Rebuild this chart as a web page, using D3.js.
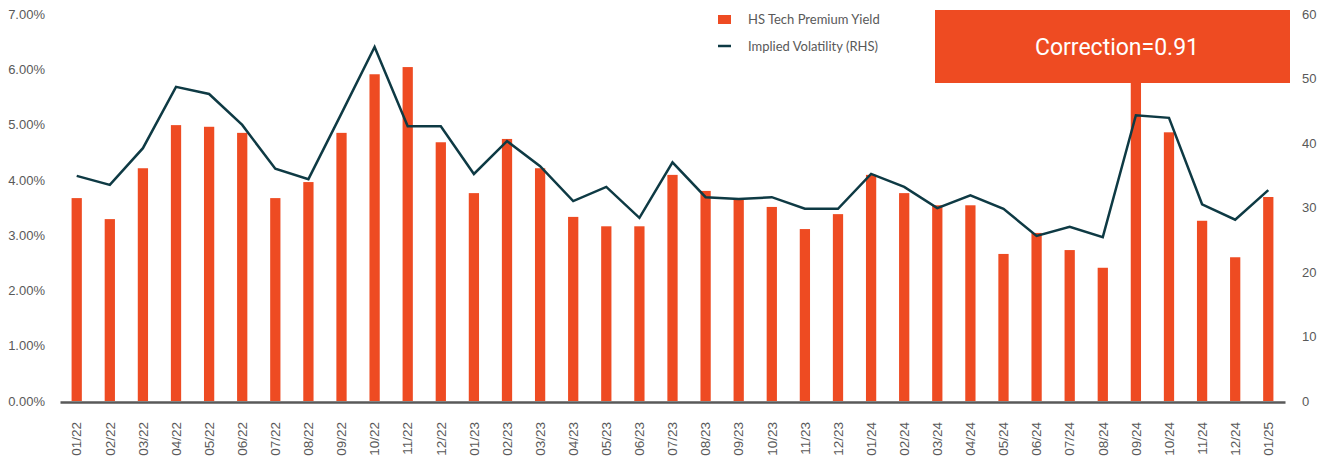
<!DOCTYPE html>
<html>
<head>
<meta charset="utf-8">
<script src="https://cdn.jsdelivr.net/npm/d3@7"></script>
<style>
  body { margin: 0; background: #fff; }
  svg { display: block; font-family: Lato, "Open Sans", sans-serif; }
</style>
</head>
<body>
<svg id="chart" width="1333" height="462"></svg>
<script>
// months, 01/22 .. 01/25
const months = ["01/22","02/22","03/22","04/22","05/22","06/22","07/22","08/22","09/22","10/22","11/22","12/22",
  "01/23","02/23","03/23","04/23","05/23","06/23","07/23","08/23","09/23","10/23","11/23","12/23",
  "01/24","02/24","03/24","04/24","05/24","06/24","07/24","08/24","09/24","10/24","11/24","12/24","01/25"];

// HS Tech premium yield (%)
const premiumYield = [3.67,3.29,4.21,4.99,4.96,4.85,3.67,3.96,4.85,5.91,6.04,4.68,
  3.76,4.74,4.21,3.33,3.16,3.16,4.09,3.80,3.65,3.51,3.11,3.38,
  4.09,3.76,3.54,3.54,2.66,3.04,2.73,2.41,6.6,4.86,3.26,2.60,3.69];

// implied volatility (RHS)
const impliedVol = [34.9,33.5,39.2,48.7,47.6,42.8,36.0,34.4,44.6,54.9,42.6,42.6,
  35.2,40.3,36.4,31.0,33.2,28.4,37.0,31.6,31.3,31.6,29.8,29.8,
  35.2,33.2,29.9,31.9,29.8,25.6,27.0,25.4,44.3,43.9,30.5,28.1,32.7];

const leftTicks = [0,1,2,3,4,5,6,7];
const rightTicks = [0,10,20,30,40,50,60];
const legendItems = ["HS Tech Premium Yield", "Implied Volatility (RHS)"];
const noteText = "Correction=0.91";

const orange = "#ee4b22";
const navy = "#0e3a44";
const grey = "#595959";

const svg = d3.select("#chart");

const x = d3.scaleBand().domain(months).range([60, 1285]).paddingInner(0.69).paddingOuter(0.35);
const yL = d3.scaleLinear().domain([0, 7]).range([401, 14]);
const yR = d3.scaleLinear().domain([0, 60]).range([401, 14]);

// bars
svg.append("g")
  .selectAll("rect")
  .data(months)
  .join("rect")
  .attr("x", d => x(d))
  .attr("width", x.bandwidth())
  .attr("y", (d, i) => yL(premiumYield[i]))
  .attr("height", (d, i) => yL(0) - yL(premiumYield[i]))
  .attr("fill", orange);

// left axis
const leftAxis = svg.append("g")
  .attr("transform", "translate(45,0)")
  .call(d3.axisLeft(yL).tickValues(leftTicks).tickFormat(d => d.toFixed(2) + "%").tickSize(0).tickPadding(0));
leftAxis.select(".domain").remove();
leftAxis.selectAll("text").attr("fill", grey).style("font-size", "13px");

// right axis
const rightAxis = svg.append("g")
  .attr("transform", "translate(1302,0)")
  .call(d3.axisRight(yR).tickValues(rightTicks).tickSize(0).tickPadding(0));
rightAxis.select(".domain").remove();
rightAxis.selectAll("text").attr("fill", grey).style("font-size", "13px");

// x axis
const xAxis = svg.append("g")
  .attr("transform", "translate(0,402)")
  .call(d3.axisBottom(x).tickSize(0).tickPadding(0));
xAxis.select(".domain").attr("stroke", grey).attr("stroke-width", 2.5);
xAxis.selectAll("text")
  .attr("fill", grey)
  .style("font-size", "13.5px")
  .attr("transform", "rotate(-90)")
  .attr("text-anchor", "end")
  .attr("x", -20)
  .attr("y", 0)
  .attr("dy", "0.35em");

// volatility line
const line = d3.line()
  .x((d, i) => x(months[i]) + x.bandwidth() / 2)
  .y(d => yR(d));
svg.append("path")
  .datum(impliedVol)
  .attr("d", line)
  .attr("fill", "none")
  .attr("stroke", navy)
  .attr("stroke-width", 2.5)
  .attr("stroke-linejoin", "miter");

// annotation box
svg.append("rect")
  .attr("x", 935).attr("y", 10)
  .attr("width", 355).attr("height", 73)
  .attr("fill", orange);
svg.append("text")
  .attr("x", 1117).attr("y", 55)
  .attr("text-anchor", "middle")
  .attr("fill", "#fff")
  .style("font-family", "Roboto, sans-serif")
  .style("font-size", "23px")
  .text(noteText);

// legend
const legend = svg.append("g").attr("transform", "translate(718,0)");
legend.append("rect").attr("x", 0).attr("y", 15).attr("width", 13).attr("height", 9).attr("fill", orange);
legend.append("line").attr("x1", 0).attr("x2", 13).attr("y1", 46).attr("y2", 46)
  .attr("stroke", navy).attr("stroke-width", 2.5);
legend.selectAll("text.lg")
  .data(legendItems)
  .join("text")
  .attr("class", "lg")
  .attr("x", 30)
  .attr("y", (d, i) => 24 + i * 27)
  .attr("fill", grey)
  .style("font-size", "13px")
  .text(d => d);
</script>
</body>
</html>
